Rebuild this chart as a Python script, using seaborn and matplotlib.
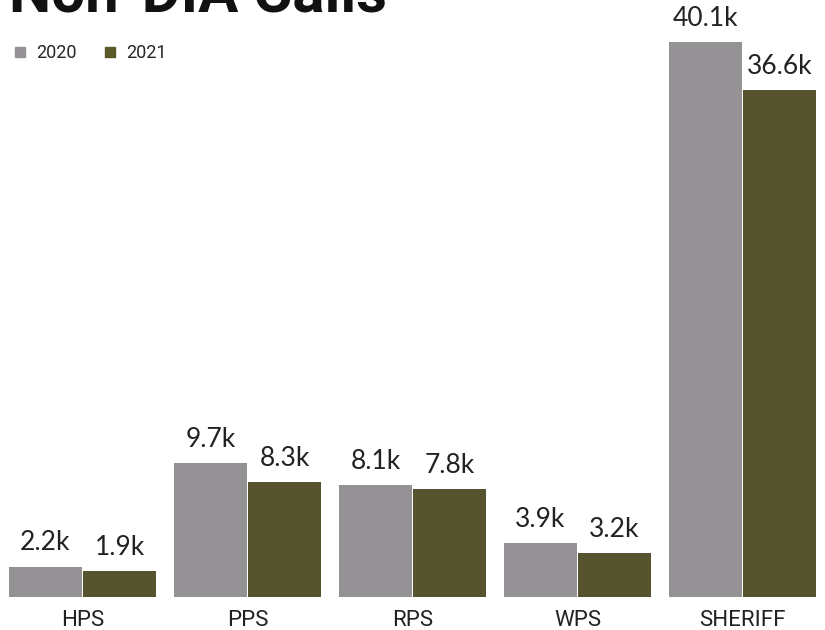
import pandas as pd
import matplotlib.pyplot as plt
import seaborn as sns
from matplotlib.lines import Line2D

# chart data
agencies = ['HPS', 'PPS', 'RPS', 'WPS', 'SHERIFF']
calls_2020 = [2200, 9700, 8100, 3900, 40100]
calls_2021 = [1900, 8300, 7800, 3200, 36600]
years = ['2020', '2021']

colors = {'2020': '#959197', '2021': '#5c5929'}

df = pd.DataFrame({
	'agency': agencies * 2,
	'year': ['2020'] * len(agencies) + ['2021'] * len(agencies),
	'calls': calls_2020 + calls_2021,
})

sns.set_theme(style='white')
plt.rcParams['font.family'] = ['Lato', 'DejaVu Sans']

fig = plt.figure(figsize=(8.25, 6.3), dpi=100)
ax = fig.add_axes([0, 33 / 630, 1, 597 / 630])

sns.barplot(data=df, x='agency', y='calls', hue='year', palette=colors,
			order=agencies, hue_order=years, width=0.9, gap=0.02,
			edgecolor='none', legend=False, ax=ax)

for cont in ax.containers:
	ax.bar_label(cont, labels=[f'{v / 1000:.1f}k' for v in cont.datavalues],
				 padding=8, fontsize=19, color='#222222')

ax.set_ylim(0, 597 / 13.84 * 1000)
ax.set_xlim(-0.5, len(agencies) - 0.5)
sns.despine(ax=ax, left=True, bottom=True)
ax.set_yticks([])
ax.set_xlabel('')
ax.set_ylabel('')
ax.tick_params(axis='x', length=0, pad=9)
for lab in ax.get_xticklabels():
	lab.set_fontfamily(['Roboto', 'DejaVu Sans'])
	lab.set_fontsize(16)
	lab.set_color('#222222')

# legend with small square markers
handles = [Line2D([], [], marker='s', linestyle='', markersize=7,
				  color=colors[y], label=y) for y in years]
fig.legend(handles=handles, loc='center left',
		   bbox_to_anchor=(13 / 825, 1 - 53 / 630), bbox_transform=fig.transFigure,
		   ncol=2, frameon=False, handlelength=0.8, handletextpad=0.48,
		   columnspacing=1.45, borderpad=0, borderaxespad=0,
		   prop={'family': 'Roboto', 'size': 13})

# title partly cut off at the top edge
fig.text(0.011, 1 - 12 / 630, 'Non-DIA Calls', fontsize=43, fontweight='bold',
		 family=['Roboto', 'DejaVu Sans'], va='baseline', ha='left', color='#111111')

fig.savefig('out.png', dpi=100)
